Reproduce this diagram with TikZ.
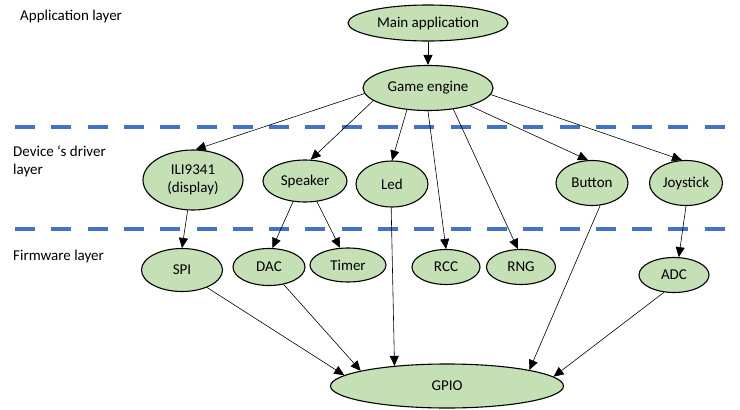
\documentclass[tikz,border=0pt]{standalone}
\usepackage{fontspec}
\setmainfont{Carlito}
\usetikzlibrary{shapes.geometric,arrows.meta}
\definecolor{blockgreen}{RGB}{197,224,180}
\definecolor{layerblue}{RGB}{68,114,196}

\begin{document}
\begin{tikzpicture}[x=1pt, y=-1pt,
    block/.style={ellipse, draw=black, line width=1.1pt, fill=blockgreen,
        inner sep=0pt, align=center, font=\fontsize{15}{18}\selectfont},
    link/.style={-{Triangle[length=10pt,width=9pt]}, line width=0.6pt},
    layerline/.style={draw=layerblue, line width=4.5pt, dash pattern=on 20pt off 16.3pt},
    layertext/.style={anchor=west, inner sep=0pt, align=left, font=\fontsize{15}{18}\selectfont}]
    \useasboundingbox (0,0) rectangle (740,410);

    \draw[layerline] (15,127) -- (725,127);
    \draw[layerline] (15,229) -- (725,229);

    \node[layertext] (applayer) at (20,16) {Application layer};
    \node[layertext] (drvlayer) at (13,161) {Device ‘s driver\\layer};
    \node[layertext] (fwlayer) at (13,256) {Firmware layer};

    \node[block, minimum width=160pt, minimum height=36pt] (mainapp) at (428,23) {Main application};
    \node[block, minimum width=130pt, minimum height=45pt] (engine) at (428,88) {Game engine};

    \node[block, minimum width=100pt, minimum height=60pt] (ili) at (193,180) {ILI9341\\(display)};
    \node[block, minimum width=84pt, minimum height=42pt] (speaker) at (305,181) {Speaker};
    \node[block, minimum width=72pt, minimum height=46pt] (led) at (392,184) {Led};
    \node[block, minimum width=72pt, minimum height=45pt] (button) at (592,183) {Button};
    \node[block, minimum width=73pt, minimum height=45pt] (joystick) at (686,183) {Joystick};

    \node[block, minimum width=81pt, minimum height=43pt] (spi) at (182,270) {SPI};
    \node[block, minimum width=72pt, minimum height=37pt] (dac) at (269,267) {DAC};
    \node[block, minimum width=76pt, minimum height=34pt] (timer) at (348,265) {Timer};
    \node[block, minimum width=68pt, minimum height=35pt] (rcc) at (446,267) {RCC};
    \node[block, minimum width=69pt, minimum height=35pt] (rng) at (521,267) {RNG};
    \node[block, minimum width=70pt, minimum height=35pt] (adc) at (674,275) {ADC};

    \node[block, minimum width=233pt, minimum height=44pt] (gpio) at (447,386) {GPIO};

    \draw[link, line width=1pt] (mainapp) -- (engine);

    \draw[link] (engine.185) -- (ili.85);
    \draw[link] (engine.193) -- (speaker.75);
    \draw[link] (engine.226) -- (led.north);
    \draw[link] (engine.south) -- (rcc.north);
    \draw[link] (engine.320) -- (rng.100);
    \draw[link] (engine.337) -- (button.100);
    \draw[link] (engine.354) -- (joystick.100);

    \draw[link] (ili.260) -- (spi.north);
    \draw[link] (speaker.240) -- (dac.80);
    \draw[link] (speaker.300) -- (timer.115);
    \draw[link] (joystick.south) -- (adc.75);

    \draw[link] (spi.325) -- (gpio.174);
    \draw[link] (dac.310) -- (gpio.170);
    \draw[link] (led.268) -- (gpio.159);
    \draw[link] (button.290) -- (gpio.11);
    \draw[link] (adc.240) -- (gpio.5);
\end{tikzpicture}
\end{document}
